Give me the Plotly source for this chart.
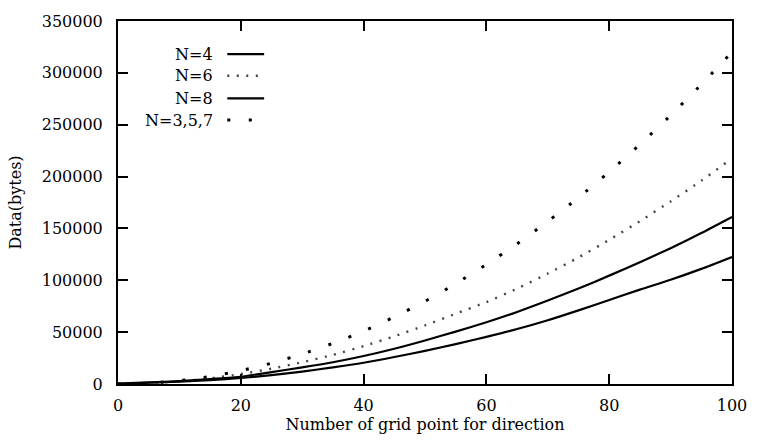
import plotly.graph_objects as go

# Data
grid_points = [0, 5, 10, 15, 20, 25, 30, 35, 40, 45, 50, 55, 60, 65, 70, 75, 80, 85, 90, 95, 100]
data_n4 = [200, 1200, 2200, 3800, 5800, 8500, 12000, 16000, 20500, 26000, 32000,
           38500, 45500, 53000, 61500, 71000, 81000, 91000, 100500, 111000, 122500]
data_n6 = [0, 800, 2600, 5400, 9600, 14800, 21000, 28000, 36500, 46000, 56500,
           67800, 79000, 92000, 106500, 122000, 139000, 157000, 176000, 196000, 217500]
data_n8 = [300, 1500, 2800, 4800, 7000, 11500, 16000, 21000, 27000, 34000, 42000,
           50500, 59500, 69500, 80500, 92000, 104500, 117500, 131000, 145500, 161000]
data_n357 = [0, 800, 3300, 7300, 12900, 20100, 28900, 39200, 51000, 64700, 79800,
             96700, 115300, 135200, 156800, 179800, 204600, 231000, 259000, 288800, 320000]

series_names = ["N=4", "N=6", "N=8", "N=3,5,7"]
series_values = [data_n4, data_n6, data_n8, data_n357]
series_styles = [
    dict(color="black", width=2.2, dash="solid"),
    dict(color="#444444", width=2.4, dash="2px,7.5px"),
    dict(color="black", width=2.2, dash="solid"),
    dict(color="black", width=3, dash="3px,18.5px"),
]

FONT = "DejaVu Serif, Liberation Serif, serif"
FS = 16

fig = go.Figure()
for name, vals, st in zip(series_names, series_values, series_styles):
    fig.add_trace(go.Scatter(
        x=grid_points, y=vals, mode="lines", name=name,
        line=dict(color=st["color"], width=st["width"], dash=st["dash"], shape="spline", smoothing=0.6),
        showlegend=False,
    ))

# gnuplot-style legend: right-aligned text with line sample to its right
legend_y = [0.909, 0.849, 0.787, 0.727]
for name, st, ly in zip(series_names, series_styles, legend_y):
    fig.add_annotation(
        xref="x domain", yref="y domain", x=0.158, y=ly, text=name,
        showarrow=False, xanchor="right", yanchor="middle",
        font=dict(family=FONT, size=FS, color="black"),
    )
    fig.add_shape(
        type="line", xref="x domain", yref="y domain",
        x0=0.178, x1=0.238, y0=ly, y1=ly,
        line=dict(color=st["color"], width=st["width"], dash=st["dash"]),
    )

axis_common = dict(
    showgrid=False, zeroline=False, showline=True, linecolor="black", linewidth=2,
    mirror="ticks", ticks="inside", ticklen=10, tickwidth=2, tickcolor="black",
    tickfont=dict(family=FONT, size=FS, color="black"),
)

fig.update_xaxes(range=[0, 100], tickmode="linear", tick0=0, dtick=20,
                 title=dict(text="Number of grid point for direction",
                            font=dict(family=FONT, size=FS, color="black"), standoff=2),
                 ticklabelstandoff=6, **axis_common)
fig.update_yaxes(range=[0, 350000], tickmode="linear", tick0=0, dtick=50000, tickformat="d",
                 title=dict(text="Data(bytes)",
                            font=dict(family=FONT, size=FS, color="black"), standoff=16),
                 ticklabelstandoff=10, **axis_common)

fig.update_layout(
    width=759, height=441,
    margin=dict(l=118, r=17, t=15, b=57),
    paper_bgcolor="white", plot_bgcolor="white",
    font=dict(family=FONT, size=FS, color="black"),
)

fig.write_html("out.html")
